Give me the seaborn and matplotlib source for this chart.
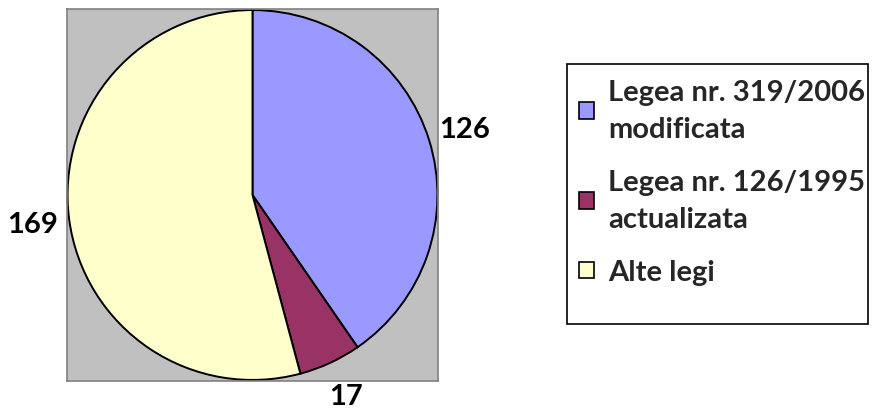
import matplotlib
matplotlib.use("Agg")
import matplotlib.pyplot as plt
import matplotlib.patches as mpatches
import seaborn as sns

# chart data
categories = ["Legea nr. 319/2006\nmodificata", "Legea nr. 126/1995\nactualizata", "Alte legi"]
values = [126, 17, 169]
colors = ["#9999FF", "#993366", "#FFFFCC"]

W, H = 872, 414

sns.set_style("white")
plt.rcParams['font.family'] = ['Lato', 'DejaVu Sans']
plt.rcParams['font.weight'] = 'bold'

fig = plt.figure(figsize=(W / 100, H / 100), dpi=100)
fig.patch.set_facecolor("white")

# plot area (gray square)
ax = fig.add_axes([67 / W, (H - 382) / H, 371 / W, 372 / H])
ax.set_facecolor("#C0C0C0")
for s in ax.spines.values():
    s.set_color("#808080")
    s.set_linewidth(1.2)

wedges, texts = ax.pie(
    values,
    labels=[str(v) for v in values],
    colors=sns.color_palette(colors),
    startangle=90,
    counterclock=False,
    labeldistance=1.2,
    wedgeprops=dict(edgecolor="black", linewidth=1.4),
    textprops=dict(fontsize=21, fontweight="bold", color="black"),
    frame=True,
)
for t in texts:
    t.set_ha("center")
    t.set_va("center")
    t.set_clip_on(False)

ax.set_xlim(-1.003, 1.003)
ax.set_ylim(-1.005, 1.005)
ax.set_xticks([])
ax.set_yticks([])

# legend frame
x0, y0, x1, y1 = 567, 65, 868, 325
fig.patches.append(mpatches.Rectangle(
    (x0 / W, 1 - y1 / H), (x1 - x0) / W, (y1 - y0) / H,
    transform=fig.transFigure, fill=False, edgecolor="black", linewidth=1.2))

leg = fig.legend(
    wedges, categories,
    loc="upper left", bbox_to_anchor=(579 / W, 1 - 80 / H),
    frameon=False,
    prop=dict(size=21, weight="bold"),
    handlelength=0.5, handleheight=0.5, handletextpad=0.5,
    labelspacing=0.95, borderpad=0, borderaxespad=0,
)
for h in leg.legend_handles:
    h.set_edgecolor("black")
    h.set_linewidth(1.2)
for t in leg.get_texts():
    t.set_linespacing(1.5)

fig.savefig("out.png", dpi=100)
